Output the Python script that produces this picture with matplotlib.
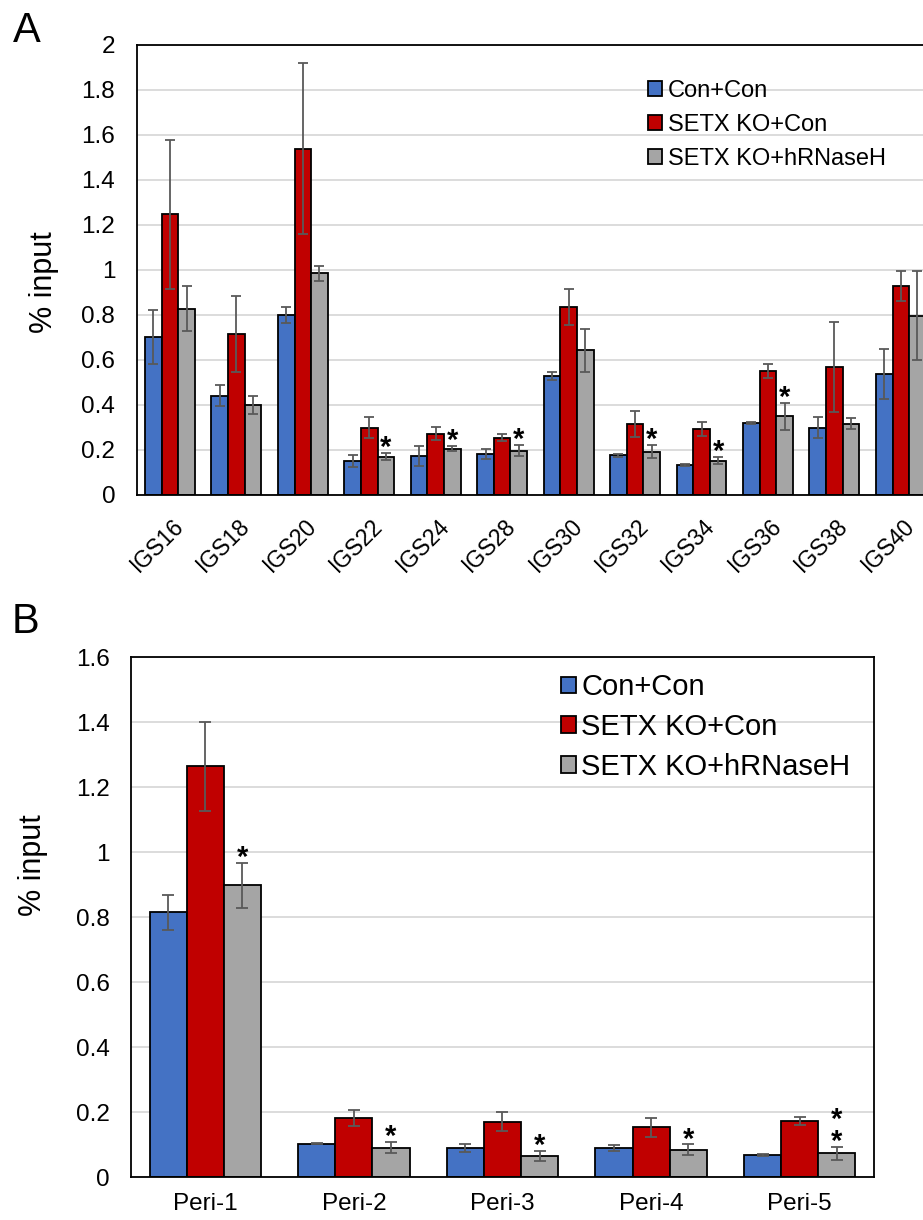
import matplotlib.pyplot as plt
import matplotlib.transforms as mtransforms
from matplotlib.ticker import FuncFormatter
import numpy as np

plt.rcParams['font.family'] = 'Liberation Sans'

series = ["Con+Con", "SETX KO+Con", "SETX KO+hRNaseH"]
colors = ["#4472C4", "#C00000", "#A5A5A5"]

# panel A: rDNA intergenic spacer
igs_sites = ["IGS16", "IGS18", "IGS20", "IGS22", "IGS24", "IGS28",
             "IGS30", "IGS32", "IGS34", "IGS36", "IGS38", "IGS40"]
igs_con = [0.70, 0.441, 0.80, 0.151, 0.173, 0.182, 0.529, 0.176, 0.133, 0.319, 0.299, 0.538]
igs_con_err = [0.12, 0.046, 0.037, 0.025, 0.043, 0.022, 0.018, 0.007, 0.003, 0.005, 0.047, 0.11]
igs_ko = [1.247, 0.716, 1.539, 0.299, 0.273, 0.255, 0.834, 0.316, 0.293, 0.550, 0.567, 0.927]
igs_ko_err = [0.33, 0.17, 0.38, 0.046, 0.028, 0.017, 0.08, 0.059, 0.033, 0.03, 0.20, 0.067]
igs_rnh = [0.828, 0.401, 0.985, 0.170, 0.206, 0.197, 0.643, 0.193, 0.153, 0.350, 0.316, 0.797]
igs_rnh_err = [0.10, 0.04, 0.033, 0.015, 0.01, 0.024, 0.095, 0.03, 0.015, 0.06, 0.024, 0.198]
igs_sig = ["", "", "", "*", "*", "*", "", "*", "*", "*", "", ""]

# panel B: pericentromeric repeats
peri_sites = ["Peri-1", "Peri-2", "Peri-3", "Peri-4", "Peri-5"]
peri_con = [0.815, 0.103, 0.089, 0.091, 0.069]
peri_con_err = [0.055, 0.002, 0.012, 0.009, 0.004]
peri_ko = [1.265, 0.182, 0.171, 0.154, 0.173]
peri_ko_err = [0.137, 0.024, 0.029, 0.029, 0.012]
peri_rnh = [0.898, 0.091, 0.065, 0.085, 0.074]
peri_rnh_err = [0.068, 0.017, 0.016, 0.016, 0.02]
peri_sig = ["*", "*", "*", "*", "**"]


def draw_panel(ax, sites, means, errs, sig, ymax, capsize):
    x = np.arange(len(sites))
    w = 0.25
    for i in range(3):
        pos = x + (i - 1) * w
        ax.bar(pos, means[i], w, color=colors[i], edgecolor='black',
               linewidth=1.3, label=series[i], zorder=2)
        ax.errorbar(pos, means[i], yerr=errs[i], fmt='none', ecolor='#595959',
                    elinewidth=1.3, capsize=capsize, capthick=1.3, zorder=3)
    # significance stars over the hRNaseH bars
    top = np.array(means[2]) + np.array(errs[2])
    for xi, t, s in zip(x + w, top, sig):
        if s:
            ax.annotate('\n'.join(s), (xi, t), xytext=(0, -9), textcoords='offset pixels',
                        ha='center', va='bottom', fontsize=21, fontweight='bold',
                        linespacing=0.7, zorder=4)
    ax.set_xlim(-0.5, len(sites) - 0.5)
    ax.set_ylim(0, ymax)
    ax.set_yticks(np.arange(0, ymax + 0.01, 0.2))
    ax.yaxis.set_major_formatter(FuncFormatter(lambda v, p: f'{v:g}'))
    ax.yaxis.grid(True, color='#D9D9D9', lw=1.3)
    ax.set_axisbelow(True)
    ax.tick_params(length=0, labelsize=16.5)
    ax.tick_params(axis='y', pad=15.5, labelsize=17.5)
    for sp in ax.spines.values():
        sp.set_linewidth(1.3)
    ax.set_ylabel('% input', fontsize=22)
    ax.set_xticks(x)
    return x


fig = plt.figure(figsize=(9.23, 12.2), dpi=100)
ax_a = fig.add_axes([0.1481, 0.5943, 0.8639, 0.3689])
ax_b = fig.add_axes([0.1419, 0.035, 0.805, 0.4262])

draw_panel(ax_a, igs_sites, [igs_con, igs_ko, igs_rnh],
           [igs_con_err, igs_ko_err, igs_rnh_err], igs_sig, 2, 3.6)
ax_a.set_xticklabels(igs_sites, rotation=45, ha='right', va='top', rotation_mode='anchor')
ax_a.tick_params(axis='x', pad=14)
shift = mtransforms.ScaledTranslation(2 / 100, 0, fig.dpi_scale_trans)
for lab in ax_a.get_xticklabels():
    lab.set_transform(lab.get_transform() + shift)
ax_a.yaxis.set_label_coords(-0.098, 0.474)
ax_a.legend(loc='upper left', bbox_to_anchor=(0.641, 0.922), frameon=False, fontsize=17,
            handlelength=0.6, handleheight=0.6, handletextpad=0.25, labelspacing=0.5,
            borderpad=0, borderaxespad=0)

draw_panel(ax_b, peri_sites, [peri_con, peri_ko, peri_rnh],
           [peri_con_err, peri_ko_err, peri_rnh_err], peri_sig, 1.6, 4.3)
ax_b.set_xticklabels(peri_sites, fontsize=17.5)
ax_b.tick_params(axis='x', pad=11)
ax_b.yaxis.set_label_coords(-0.111, 0.60)
ax_b.legend(loc='upper left', bbox_to_anchor=(0.579, 0.969), frameon=False, fontsize=21,
            handlelength=0.5, handleheight=0.5, handletextpad=0.18, labelspacing=0.4,
            borderpad=0, borderaxespad=0)

fig.text(0.0141, 0.9656, 'A', fontsize=30, va='baseline')
fig.text(0.013, 0.4811, 'B', fontsize=30, va='baseline')

plt.savefig('out.png', dpi=100)
plt.close()
